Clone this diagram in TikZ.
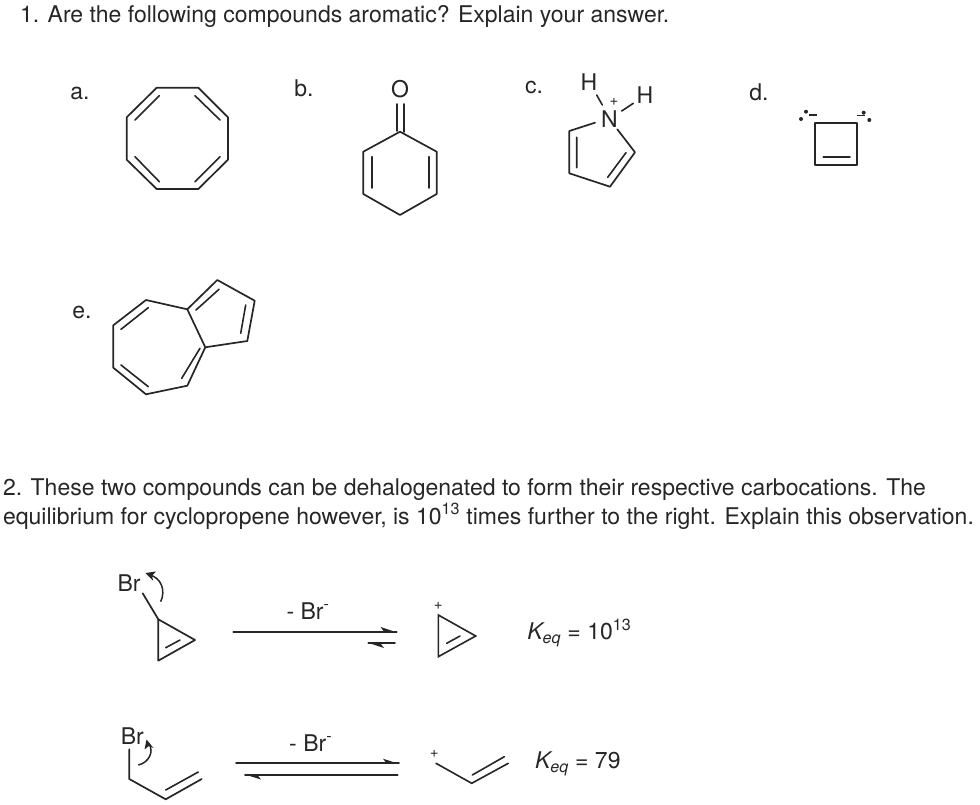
\documentclass[tikz,border=0pt]{standalone}
\usepackage{fontspec}
\setmainfont{TeX Gyre Heros}
\usetikzlibrary{arrows.meta}
\tikzset{
  bond/.style={line width=1.7pt,black!85,line cap=round,line join=round},
  thin bond/.style={line width=1.6pt,black!85,line cap=round},
  txt/.style={inner sep=0pt,outer sep=0pt,anchor=base west,font=\fontsize{23}{27}\selectfont,text=black!85},
  lbl/.style={inner sep=0pt,outer sep=0pt,anchor=base,font=\fontsize{23}{27}\selectfont,text=black!85},
  small/.style={inner sep=0pt,outer sep=0pt,font=\fontsize{15}{17}\selectfont,text=black!85},
  head/.style={fill=black!85,draw=none},
  curved/.style={line width=1.5pt,black!85},
  eldot/.style={circle,fill=black!85,inner sep=0pt,minimum size=4pt}
}
\begin{document}
\begin{tikzpicture}[x=1pt,y=-1pt]
\useasboundingbox (0,0) rectangle (980,805);
% Question text
\node[txt] (q1) at (20,23) {1. Are the following compounds aromatic? Explain your answer.};
\node[txt] (q2a) at (3,495) {2. These two compounds can be dehalogenated to form their respective carbocations. The};
\node[txt] (q2b) at (3,524) {equilibrium for cyclopropene however, is 10\textsuperscript{13} times further to the right. Explain this observation.};
% Part labels
\node[lbl] (la) at (80,100) {a.};
\node[lbl] (lb) at (304,97) {b.};
\node[lbl] (lc) at (534,94) {c.};
\node[lbl] (ld) at (759,101) {d.};
\node[lbl] (le) at (82,318) {e.};
% a. cyclooctatetraene
\draw[bond] (156.7,87.7)--(198.3,87.7)--(228,117.3)--(228,159.7)--(198.3,189)--(156.7,189)--(126.7,159.7)--(126.7,117.3)--cycle;
\draw[thin bond] (159.3,95.7)--(135,120) (195,95.7)--(220,120) (220,156.7)--(195,181.7) (135,156.7)--(159.3,181.7);
% b. cyclohexadienone
\node[lbl] (oxy) at (400,98) {O};
\draw[bond] (400,131.7)--(436.7,151.7)--(436.7,194)--(400,215)--(363.3,194)--(363.3,151.7)--cycle;
\draw[thin bond] (371.7,156.7)--(371.7,188) (429,156.7)--(429,188);
\draw[thin bond] (396.7,104)--(396.7,131) (404,104)--(404,132);
% c. pyrrolium
\node[lbl] (nplus) at (609.3,127.5) {N};
\node[lbl] (h1) at (589,91) {H};
\node[lbl] (h2) at (645,103.5) {H};
\node[small] (plus1) at (614,101.7) {+};
\draw[bond] (595,122.7)--(569.3,131)--(569.3,173.3)--(610,186.7)--(635,152.3)--(617.3,129.3);
\draw[thin bond] (576.7,137.3)--(576.7,167.7) (607.7,177.3)--(626,152.7);
\draw[thin bond] (596.7,95)--(602.3,105) (621.7,111)--(633.3,103.3);
% d. cyclobutene
\draw[bond] (815,122.7) rectangle (857.3,165);
\draw[thin bond] (823.3,157.3)--(850,157.3);
\node[eldot] (d1) at (806,111.7) {};
\node[eldot] (d2) at (801,119) {};
\node[eldot] (d3) at (863.7,112.7) {};
\node[eldot] (d4) at (869.3,120) {};
\draw[line width=1.2pt,black!85] (809.3,115)--(817.3,115) (857.3,115.7)--(865,115.7);
% e. azulene
\draw[bond] (217.3,280)--(254.7,300.7)--(247.3,341)--(205.3,347.3)--(187.3,309.3)--cycle;
\draw[bond] (187.3,309.3)--(146,300)--(113.3,325.3)--(113.3,367.7)--(146,394.3)--(187.3,385.7)--(205.3,347.3);
\draw[thin bond] (196,310)--(219,289.3) (245.7,305)--(240.7,333.3) (148.3,307.7)--(121,329.3) (121,365)--(148.3,386.7) (200,348.3)--(181.7,378.3);
% Reaction 1
\node[lbl] (br1) at (129,591) {Br};
\draw[bond] (158.3,619.3)--(195,640)--(158.3,660.7)--cycle;
\draw[thin bond] (165.7,647.7)--(180,640);
\draw[bond] (142.7,593.3)--(158.3,619.3);
\draw[curved] (160.7,601.7) .. controls (166,590) and (161,578) .. (150,575);
\fill[head] (145.5,573) -- (156,571.5) -- (152,575.5) -- (153,580.5) -- cycle;
\node[lbl] (minus1) at (308,619) {- Br\textsuperscript{-}};
\draw[bond] (233.3,631.7)--(396.7,631.7);
\fill[head] (396.7,632.3) -- (380.5,627) -- (384.5,632.3) -- cycle;
\draw[bond] (368.3,643.3)--(395,643.3);
\fill[head] (368.3,642.8) -- (384,648) -- (380,642.8) -- cycle;
\draw[thin bond] (438.3,615)--(475.7,636)--(438.3,656.7)--cycle;
\draw[thin bond] (446.7,643.3)--(460,636);
\node[small] (plus2) at (438.3,606) {+};
\node[txt] (k1) at (527.3,639.3) {\textit{K\textsubscript{eq}} = 10\textsuperscript{13}};
% Reaction 2
\node[lbl] (br2) at (132.3,744) {Br};
\draw[bond] (129.3,749.3)--(129.3,779)--(165.7,799.3)--(201.7,779);
\draw[thin bond] (165.7,790)--(198.3,772);
\draw[curved] (138.3,765) .. controls (148,763) and (155,752) .. (148.5,743);
\fill[head] (146.5,739.5) -- (153.5,748) -- (148.8,746) -- (144.5,749.5) -- cycle;
\node[lbl] (minus2) at (310.7,751) {- Br\textsuperscript{-}};
\draw[bond] (236,763.3)--(399,763.3);
\fill[head] (399,763.9) -- (383,758.7) -- (387,763.9) -- cycle;
\draw[bond] (245,775)--(397.7,775);
\fill[head] (245,774.5) -- (261,779.5) -- (257,774.5) -- cycle;
\draw[thin bond] (436,763.3)--(471.7,783.3)--(508.3,763.3);
\draw[thin bond] (472.3,775)--(504.3,756.7);
\node[small] (plus3) at (434.3,754) {+};
\node[txt] (k2) at (535,768.3) {\textit{K\textsubscript{eq}} = 79};
\end{tikzpicture}
\end{document}
